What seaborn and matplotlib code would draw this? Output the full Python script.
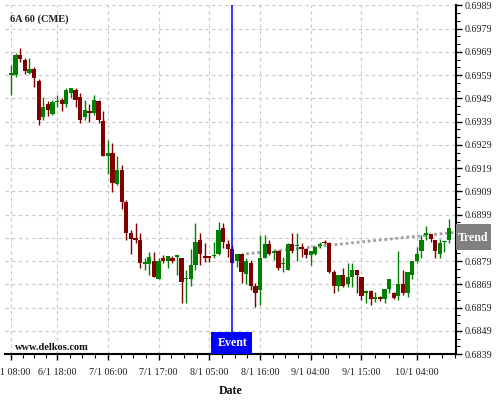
import matplotlib
matplotlib.use("Agg")
import matplotlib.pyplot as plt
import matplotlib.transforms as mtransforms
from matplotlib.patches import Rectangle
import numpy as np
import pandas as pd
import seaborn as sns

# Hourly OHLC bars (6A, CME)
opens = [0.69592, 0.69589, 0.69678, 0.69656, 0.69597, 0.69616, 0.69566, 0.69408, 0.69465, 0.69424,
         0.69475, 0.69484, 0.69467, 0.69515, 0.69527, 0.69495, 0.69408, 0.69436, 0.69425, 0.69477,
         0.69393, 0.69244, 0.69254, 0.69122, 0.69182, 0.69046, 0.68909, 0.68887, 0.68881, 0.68779,
         0.68779, 0.68790, 0.68713, 0.68802, 0.68790, 0.68802, 0.68806, 0.68802, 0.68713, 0.68713,
         0.68773, 0.68881, 0.68813, 0.68813, 0.68810, 0.68821, 0.68934, 0.68864, 0.68841, 0.68792,
         0.68819, 0.68733, 0.68783, 0.68683, 0.68664, 0.68802, 0.68864, 0.68824, 0.68834, 0.68777,
         0.68752, 0.68864, 0.68853, 0.68849, 0.68841, 0.68815, 0.68821, 0.68855, 0.68874, 0.68866,
         0.68744, 0.68684, 0.68730, 0.68691, 0.68720, 0.68752, 0.68720, 0.68654, 0.68661, 0.68628,
         0.68634, 0.68626, 0.68670, 0.68651, 0.68641, 0.68690, 0.68654, 0.68730, 0.68792, 0.68834,
         0.68904, 0.68905, 0.68881, 0.68821, 0.68872, 0.68881]
highs = [0.69635, 0.69685, 0.69707, 0.69663, 0.69663, 0.69625, 0.69573, 0.69494, 0.69477, 0.69484,
         0.69505, 0.69491, 0.69534, 0.69534, 0.69535, 0.69512, 0.69484, 0.69465, 0.69505, 0.69484,
         0.69436, 0.69312, 0.69300, 0.69240, 0.69204, 0.69053, 0.68924, 0.68953, 0.68910, 0.68802,
         0.68831, 0.68831, 0.68802, 0.68816, 0.68812, 0.68812, 0.68818, 0.68802, 0.68752, 0.68841,
         0.68953, 0.68910, 0.68869, 0.68813, 0.68871, 0.68960, 0.68953, 0.68881, 0.68860, 0.68819,
         0.68824, 0.68802, 0.68795, 0.68694, 0.68902, 0.68902, 0.68881, 0.68838, 0.68838, 0.68809,
         0.68869, 0.68910, 0.68912, 0.68867, 0.68845, 0.68835, 0.68855, 0.68874, 0.68881, 0.68870,
         0.68752, 0.68730, 0.68759, 0.68780, 0.68780, 0.68752, 0.68720, 0.68664, 0.68666, 0.68658,
         0.68638, 0.68670, 0.68712, 0.68658, 0.68834, 0.68752, 0.68742, 0.68792, 0.68852, 0.68902,
         0.68941, 0.68905, 0.68881, 0.68884, 0.68876, 0.68970]
lows = [0.69505, 0.69584, 0.69645, 0.69596, 0.69596, 0.69541, 0.69375, 0.69398, 0.69415, 0.69419,
        0.69451, 0.69436, 0.69451, 0.69491, 0.69452, 0.69383, 0.69398, 0.69390, 0.69419, 0.69385,
        0.69240, 0.69164, 0.69089, 0.69118, 0.69013, 0.68881, 0.68821, 0.68869, 0.68759, 0.68752,
        0.68730, 0.68720, 0.68713, 0.68783, 0.68759, 0.68780, 0.68730, 0.68608, 0.68608, 0.68684,
        0.68752, 0.68772, 0.68788, 0.68788, 0.68802, 0.68816, 0.68845, 0.68809, 0.68780, 0.68766,
        0.68697, 0.68692, 0.68666, 0.68594, 0.68601, 0.68802, 0.68816, 0.68795, 0.68752, 0.68744,
        0.68752, 0.68823, 0.68792, 0.68809, 0.68805, 0.68773, 0.68816, 0.68845, 0.68862, 0.68737,
        0.68651, 0.68661, 0.68680, 0.68680, 0.68680, 0.68651, 0.68623, 0.68608, 0.68601, 0.68612,
        0.68620, 0.68610, 0.68651, 0.68625, 0.68623, 0.68644, 0.68635, 0.68712, 0.68783, 0.68802,
        0.68881, 0.68874, 0.68802, 0.68802, 0.68830, 0.68867]
closes = [0.69594, 0.69678, 0.69659, 0.69606, 0.69616, 0.69576, 0.69395, 0.69452, 0.69438, 0.69475,
          0.69480, 0.69467, 0.69527, 0.69534, 0.69484, 0.69395, 0.69438, 0.69425, 0.69484, 0.69395,
          0.69243, 0.69257, 0.69125, 0.69182, 0.69046, 0.68912, 0.68884, 0.68882, 0.68783, 0.68786,
          0.68806, 0.68723, 0.68790, 0.68790, 0.68812, 0.68790, 0.68815, 0.68701, 0.68719, 0.68773,
          0.68872, 0.68821, 0.68805, 0.68805, 0.68816, 0.68924, 0.68874, 0.68841, 0.68783, 0.68819,
          0.68744, 0.68790, 0.68684, 0.68654, 0.68802, 0.68864, 0.68821, 0.68834, 0.68762, 0.68783,
          0.68864, 0.68834, 0.68858, 0.68842, 0.68815, 0.68835, 0.68852, 0.68864, 0.68866, 0.68744,
          0.68684, 0.68730, 0.68684, 0.68720, 0.68752, 0.68730, 0.68641, 0.68661, 0.68626, 0.68634,
          0.68625, 0.68670, 0.68712, 0.68632, 0.68690, 0.68654, 0.68742, 0.68792, 0.68821, 0.68881,
          0.68908, 0.68884, 0.68834, 0.68867, 0.68876, 0.68931]

# x axis labels (bar index where each label sits)
tick_bars = [0, 10, 21, 32, 43, 54, 65, 76, 88]
tick_labels = ['6/1 08:00', '6/1 18:00', '7/1 06:00', '7/1 17:00', '8/1 05:00',
               '8/1 16:00', '9/1 04:00', '9/1 15:00', '10/1 04:00']

event_bar = 48
trend_bars = [51, 96]
trend_prices = [0.68821, 0.68913]

y_min, y_max = 0.6839, 0.6989

df = pd.DataFrame({'open': opens, 'high': highs, 'low': lows, 'close': closes})
df['bar'] = np.arange(len(df))
df['up'] = df['close'] >= df['open']

sns.set_theme(style="white")
plt.rcParams['font.family'] = ['Liberation Serif', 'DejaVu Serif']

fig = plt.figure(figsize=(5, 4), dpi=100)
ax = fig.add_axes([0.01, 0.115, 0.902, 0.8715])

green, red = '#008000', '#800000'
colors = np.where(df['up'], green, red)

# trend line first so candles sit on top of it
trend_df = pd.DataFrame({'bar': trend_bars, 'price': trend_prices})
sns.lineplot(data=trend_df, x='bar', y='price', ax=ax, color='#a0a0a0',
             linewidth=2, linestyle=(0, (1, 1)), zorder=2)

# wicks and bodies
ax.vlines(df['bar'], df['low'], df['high'], colors=colors, linewidth=1, zorder=3)
body_bottom = df[['open', 'close']].min(axis=1)
body_height = (df['close'] - df['open']).abs().clip(lower=0.00005)
ax.bar(df['bar'], body_height, bottom=body_bottom, width=0.92, color=colors,
       linewidth=0, zorder=4)

# event marker
ax.axvline(event_bar, ymin=0.063, ymax=1, color='#0000ff', linewidth=1.1, zorder=5)
bt = mtransforms.blended_transform_factory(ax.transData, ax.transAxes)
ax.add_patch(Rectangle((event_bar - 4.55, 0), 8.9, 0.063, transform=bt,
                       facecolor='#0000ff', edgecolor='none', clip_on=False, zorder=6))
ax.text(event_bar, 0.031, 'Event', transform=bt, color='white', fontsize=8.6,
        fontweight='bold', ha='center', va='center', zorder=7)

# trend label box at right
ax.add_patch(Rectangle((1.0, 0.2986), 0.0776, 0.0746, transform=ax.transAxes,
                       facecolor='#808080', edgecolor='none', clip_on=False, zorder=6))
ax.text(1.039, 0.334, 'Trend', transform=ax.transAxes, color='white', fontsize=8.6,
        fontweight='bold', ha='center', va='center', zorder=7)

# texts
ax.text(0.011, 0.959, '6A 60 (CME)', transform=ax.transAxes, fontsize=7.5,
        fontweight='bold', va='center', ha='left', color='#222222')
ax.text(0.022, 0.018, 'www.delkos.com', transform=ax.transAxes, fontsize=7.5,
        fontweight='bold', va='center', ha='left', color='#111111')

# axes
ax.set_xlim(-1.3, 96.5)
ax.set_ylim(y_min, y_max)
ax.yaxis.tick_right()
yt = np.round(np.arange(y_min, y_max + 0.00001, 0.001), 4)
ax.set_yticks(yt)
# the 0.6889 label sits under the Trend box
ax.set_yticklabels(['' if abs(v - 0.6889) < 1e-6 else f'{v:.4f}' for v in yt])
ax.set_yticks(np.arange(y_min, y_max, 0.001 / 3), minor=True)
ax.set_xticks(tick_bars)
ax.set_xticklabels(tick_labels)
minor_x = []
for a, b in zip(tick_bars[:-1], tick_bars[1:]):
    minor_x += list(np.linspace(a, b, 5)[1:-1])
minor_x += [tick_bars[-1] + 2.75 * k for k in (1, 2, 3)]
ax.set_xticks(minor_x, minor=True)

ax.tick_params(axis='both', which='major', direction='out', length=4, width=1,
               color='black', labelsize=7.3, labelcolor='#222222', pad=2)
ax.tick_params(axis='both', which='minor', direction='out', length=3, width=0.8,
               color='black')
ax.tick_params(axis='x', which='major', pad=6)
ax.tick_params(axis='y', which='both', left=False, right=True)
ax.tick_params(axis='x', which='both', bottom=True, top=False)

ax.grid(True, which='major', color='#c8c8c8', linestyle=(0, (3, 3)), linewidth=0.8)
ax.set_axisbelow(True)

for side in ('left', 'top'):
    ax.spines[side].set_visible(False)
for side in ('right', 'bottom'):
    ax.spines[side].set_color('black')
    ax.spines[side].set_linewidth(1.5)

ax.set_xlabel('Date', fontsize=8.6, fontweight='bold', labelpad=6, color='#111111')
ax.set_ylabel('')

fig.savefig('out.png', dpi=100)
